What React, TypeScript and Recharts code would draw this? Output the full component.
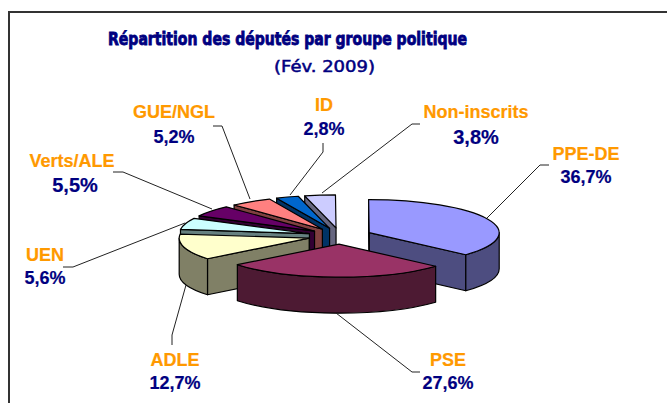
import { PieChart, Pie } from 'recharts'

// draw order = back to front, going counter-clockwise from PPE-DE so PSE lands on top
const groups = ['PPE-DE', 'Non-inscrits', 'ID', 'GUE/NGL', 'Verts/ALE', 'UEN', 'ADLE', 'PSE']
const shares = [36.7, 3.8, 2.8, 5.2, 5.5, 5.6, 12.7, 27.6]
const topColors = ['#9999FF', '#CCCCFF', '#0066CC', '#FF8080', '#660066', '#CCFFFF', '#FFFFCC', '#993366']
const wallColors = ['#4D4D80', '#666680', '#003366', '#804040', '#330033', '#668080', '#808066', '#4D1A33']

const data = groups.map((name, i) => ({ name, value: shares[i], top: topColors[i], wall: wallColors[i] }))

const SQUASH = 0.254
const DEPTH = 36
const EXPLODE = 32

const labelLayout: Record<string, { x: number; y: number; vx?: number; gap: number; size?: number; line: number[][] }> = {
  'PPE-DE': { x: 586, y: 160, gap: 23, line: [[487, 218], [540, 165], [549, 165]] },
  PSE: { x: 448, y: 366, gap: 23, line: [[336, 313], [412, 372], [420, 372]] },
  ADLE: { x: 175, y: 366, gap: 23, line: [[186, 285], [172, 335], [172, 345]] },
  UEN: { x: 45, y: 261, gap: 23, line: [[185, 223], [73, 267], [63, 267]] },
  'Verts/ALE': { x: 72, y: 167, vx: 75, gap: 25, size: 20, line: [[212, 209], [123, 172], [113, 172]] },
  'GUE/NGL': { x: 174, y: 118, gap: 25, line: [[250, 199], [222, 126], [213, 126]] },
  ID: { x: 324, y: 111, gap: 24, line: [[290, 195], [323, 152], [323, 143]] },
  'Non-inscrits': { x: 476, y: 118, gap: 26, size: 20, line: [[322, 193], [412, 124], [420, 124]] },
}

const rad = (a: number) => (a * Math.PI) / 180

function Slice(props: any) {
  const { cx, cy, outerRadius: r, startAngle: s, endAngle: e, payload } = props
  const mid = (s + e) / 2
  const ox = cx + EXPLODE * Math.cos(rad(mid))
  const oy = cy - EXPLODE * Math.sin(rad(mid)) * SQUASH
  const ry = r * SQUASH
  const px = (a: number) => ox + r * Math.cos(rad(a))
  const py = (a: number) => oy - ry * Math.sin(rad(a))
  const arc = (a: number, b: number, sweep: number, dy = 0) =>
    `A ${r} ${ry} 0 ${Math.abs(b - a) > 180 ? 1 : 0} ${sweep} ${px(b)} ${py(b) + dy}`
  const face = (a: number) =>
    `M ${ox} ${oy} L ${px(a)} ${py(a)} L ${px(a)} ${py(a) + DEPTH} L ${ox} ${oy + DEPTH} Z`

  // outer wall only shows on the lower half of the ellipse
  const walls: [number, number][] = []
  for (const [lo, hi] of [[-180, 0], [180, 360]]) {
    const a = Math.max(s, lo)
    const b = Math.min(e, hi)
    if (b > a) walls.push([a, b])
  }

  const common = { stroke: '#000', strokeWidth: 1.2, strokeLinejoin: 'round' as const }
  return (
    <g>
      {Math.cos(rad(s)) > 0 && <path d={face(s)} fill={payload.wall} {...common} />}
      {Math.cos(rad(e)) < 0 && <path d={face(e)} fill={payload.wall} {...common} />}
      {walls.map(([a, b]) => (
        <path
          key={a}
          d={`M ${px(a)} ${py(a)} ${arc(a, b, 0)} L ${px(b)} ${py(b) + DEPTH} ${arc(b, a, 1, DEPTH)} Z`}
          fill={payload.wall}
          {...common}
        />
      ))}
      <path d={`M ${ox} ${oy} L ${px(s)} ${py(s)} ${arc(s, e, 0)} Z`} fill={payload.top} {...common} />
    </g>
  )
}

function SliceLabel(props: any) {
  const { name, value } = props
  const l = labelLayout[name]
  const text = `${value.toFixed(1).replace('.', ',')}%`
  return (
    <g fontFamily="Liberation Sans" fontWeight="bold" textAnchor="middle">
      <polyline points={l.line.map((p) => p.join(',')).join(' ')} fill="none" stroke="#222" strokeWidth={1} />
      <text x={l.x} y={l.y} fontSize={18} fill="#FF9900" stroke="#FF9900" strokeWidth={0.2}>
        {name}
      </text>
      <text x={l.vx ?? l.x} y={l.y + l.gap} fontSize={l.size ?? 18} fill="#000080" stroke="#000080" strokeWidth={0.2}>
        {text}
      </text>
    </g>
  )
}

export default function App() {
  return (
    <div style={{ position: 'absolute', left: 0, top: 0, width: 667, height: 403, background: '#fff', overflow: 'hidden' }}>
      <div
        style={{
          position: 'absolute',
          left: 8,
          top: 11,
          width: 670,
          height: 400,
          borderTop: '2px solid #333',
          borderLeft: '2px solid #333',
        }}
      />
      <div style={{ position: 'absolute', left: 0, top: 0 }}>
        <PieChart width={667} height={403} margin={{ top: 0, right: 0, bottom: 0, left: 0 }}>
          <text
            x={108}
            y={45}
            fontFamily="DejaVu Sans Condensed"
            fontWeight="bold"
            fontSize={18}
            fill="#000080"
            stroke="#000080"
            strokeWidth={0.8}
            textLength={359}
            lengthAdjust="spacingAndGlyphs"
          >
            Répartition des députés par groupe politique
          </text>
          <text
            x={274}
            y={72}
            fontFamily="DejaVu Sans"
            fontSize={15}
            fill="#000080"
            stroke="#000080"
            strokeWidth={0.5}
            textLength={101}
            lengthAdjust="spacingAndGlyphs"
          >
            (Fév. 2009)
          </text>
          <Pie
            data={data}
            dataKey="value"
            nameKey="name"
            cx={340}
            cy={236}
            innerRadius={0}
            outerRadius={130}
            startAngle={-42}
            endAngle={318}
            shape={Slice}
            inactiveShape={Slice}
            label={SliceLabel}
            labelLine={false}
            isAnimationActive={false}
          />
        </PieChart>
      </div>
    </div>
  )
}
